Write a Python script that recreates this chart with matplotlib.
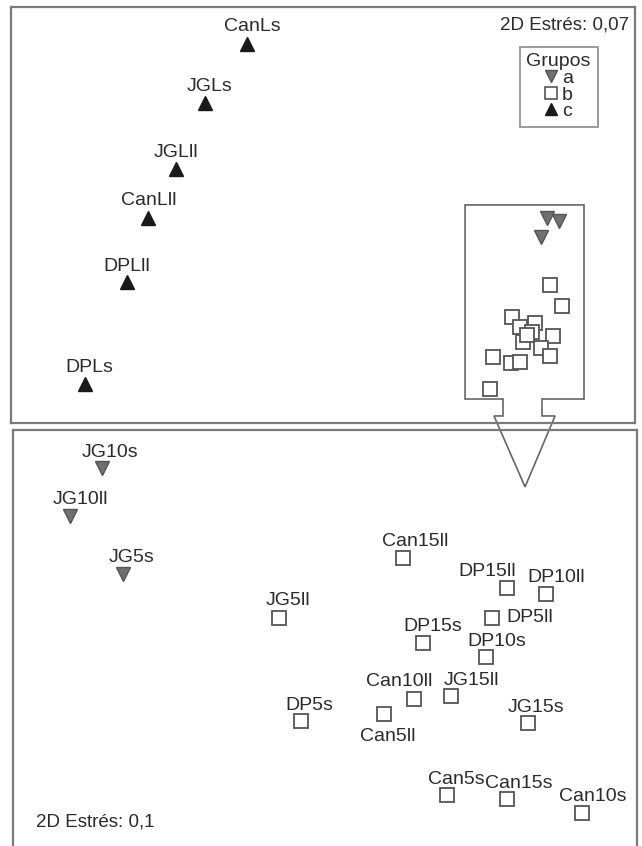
import matplotlib
matplotlib.use("Agg")
import matplotlib.pyplot as plt
from matplotlib.patches import Polygon
from matplotlib.lines import Line2D

plt.rcParams['font.family'] = ['Liberation Sans', 'DejaVu Sans']

# ---------------- data: top NMDS (all samples) ----------------
top_c_names = ["CanLs", "JGLs", "JGLll", "CanLll", "DPLll", "DPLs"]
top_c_x = [-0.51, -0.79, -0.98, -1.17, -1.31, -1.59]
top_c_y = [1.14, 0.75, 0.31, -0.02, -0.45, -1.13]

top_a_x = [1.49, 1.57, 1.45]
top_a_y = [-0.02, -0.04, -0.15]

top_b_x = [1.51, 1.59, 1.26, 1.31, 1.41, 1.39, 1.53, 1.33, 1.45, 1.51, 1.13, 1.25, 1.31, 1.11, 1.36]
top_b_y = [-0.47, -0.61, -0.68, -0.75, -0.72, -0.78, -0.81, -0.85, -0.89, -0.94, -0.95, -0.99, -0.98, -1.16, -0.80]

top_stress = "2D Estrés: 0,07"

# ---------------- data: bottom NMDS (zoomed subset) ----------------
bot_a_names = ["JG10s", "JG10ll", "JG5s"]
bot_a_x = [-1.49, -1.70, -1.35]
bot_a_y = [1.15, 0.83, 0.44]

bot_b_names = ["JG5ll", "DP5s", "Can15ll", "DP15ll", "DP10ll", "DP5ll", "DP15s", "DP10s",
               "Can10ll", "JG15ll", "Can5ll", "JG15s", "Can5s", "Can15s", "Can10s"]
bot_b_x = [-0.31, -0.16, 0.52, 1.21, 1.47, 1.11, 0.65, 1.07, 0.59, 0.84, 0.39, 1.35, 0.81, 1.21, 1.71]
bot_b_y = [0.15, -0.54, 0.55, 0.35, 0.31, 0.15, -0.02, -0.11, -0.39, -0.37, -0.49, -0.55, -1.03, -1.06, -1.15]

bot_stress = "2D Estrés: 0,1"

group_labels = ["a", "b", "c"]

# ---------------- styles / label placement ----------------
FS = 14
FS_ST = 13.5
TXT = "#2b2b2b"
EDGE = "#555555"
GRAY = "#707070"
BLACK = "#1a1a1a"
SPINE = "#7a7a7a"

top_c_off = {"CanLs": (6, 18), "JGLs": (5, 16), "JGLll": (0, 16), "CanLll": (1, 17),
             "DPLll": (0, 16), "DPLs": (5, 17)}
bot_off = {"JG10s": (9, 15), "JG10ll": (10, 16), "JG5s": (9, 17),
           "JG5ll": (9, 17), "DP5s": (8, 16), "Can15ll": (12, 16), "DP15ll": (-19, 16),
           "DP10ll": (11, 16), "DP5ll": (38, 0), "DP15s": (10, 17), "DP10s": (11, 15),
           "Can10ll": (-14, 17), "JG15ll": (20, 15), "Can5ll": (4, -23), "JG15s": (9, 15),
           "Can5s": (10, 15), "Can15s": (12, 16), "Can10s": (11, 16)}

W, H = 642, 846
fig = plt.figure(figsize=(W / 100, H / 100), dpi=100)
fig.patch.set_facecolor("white")

ax1 = fig.add_axes([11 / W, (H - 423) / H, 624 / W, 416 / H])
ax2 = fig.add_axes([13 / W, 0, 624 / W, 416 / H])

for ax in (ax1, ax2):
    ax.set_facecolor("none")
    ax.set_xticks([])
    ax.set_yticks([])
    for s in ax.spines.values():
        s.set_color(SPINE)
        s.set_linewidth(1.6)
ax2.spines["bottom"].set_visible(False)

ax1.set_xlim(-2.08, 2.08)
ax1.set_ylim(-1.387, 1.387)
ax2.set_xlim(-2.08, 2.08)
ax2.set_ylim(-1.373, 1.40)

MS = 10.5
tri_up = dict(marker="^", ls="none", ms=MS, mfc=BLACK, mec=BLACK, mew=1.0)
tri_dn = dict(marker="v", ls="none", ms=MS, mfc=GRAY, mec=EDGE, mew=1.0)
sq = dict(marker="s", ls="none", ms=10, mfc="white", mec=EDGE, mew=1.3)

# top panel
ax1.plot(top_c_x, top_c_y, **tri_up, zorder=3)
ax1.plot(top_b_x, top_b_y, **sq, zorder=3)
ax1.plot(top_a_x, top_a_y, **tri_dn, zorder=4)
for n, x, y in zip(top_c_names, top_c_x, top_c_y):
    dx, dy = top_c_off[n]
    ax1.annotate(n, (x, y), xytext=(dx, dy), textcoords="offset pixels",
                 ha="center", va="center", fontsize=FS, color=TXT)

ax1.text(0.990, 0.957, top_stress, transform=ax1.transAxes, ha="right", va="center",
         fontsize=FS_ST, color=TXT)

# zoom box + arrow
zoom_x = [0.947, 1.74, 1.74, 1.46, 1.46, 1.547, 1.347, 1.14, 1.2, 1.2, 0.947]
zoom_y = [0.067, 0.067, -1.227, -1.227, -1.34, -1.34, -1.813, -1.34, -1.34, -1.227, -1.227]
poly = Polygon(list(zip(zoom_x, zoom_y)), closed=True, fill=False, edgecolor="#666666",
               linewidth=1.2, clip_on=False, zorder=2)
ax1.add_patch(poly)

handles = [Line2D([], [], marker="v", ls="none", ms=8, mfc=GRAY, mec=EDGE),
           Line2D([], [], marker="s", ls="none", ms=8, mfc="white", mec=EDGE, mew=1.2),
           Line2D([], [], marker="^", ls="none", ms=8, mfc=BLACK, mec=BLACK)]
leg = ax1.legend(handles, group_labels, title="Grupos", loc="upper right",
                 bbox_to_anchor=(0.94, 0.905), frameon=True, fancybox=False,
                 edgecolor=SPINE, handlelength=0.7, handletextpad=0.2, labelspacing=-0.05,
                 borderpad=0.35, fontsize=14, title_fontsize=14, alignment="center",
                 borderaxespad=0)
leg.get_frame().set_linewidth(1.3)
for t in leg.get_texts():
    t.set_color(TXT)
leg.get_title().set_color(TXT)

# bottom panel
ax2.plot(bot_a_x, bot_a_y, **tri_dn, zorder=3)
ax2.plot(bot_b_x, bot_b_y, **sq, zorder=3)
for n, x, y in zip(bot_a_names + bot_b_names, bot_a_x + bot_b_x, bot_a_y + bot_b_y):
    dx, dy = bot_off[n]
    ax2.annotate(n, (x, y), xytext=(dx, dy), textcoords="offset pixels",
                 ha="center", va="center", fontsize=FS, color=TXT, zorder=4)

ax2.text(0.037, 0.058, bot_stress, transform=ax2.transAxes, ha="left", va="center",
         fontsize=FS_ST, color=TXT)

fig.savefig("out.png", dpi=100, facecolor="white")
